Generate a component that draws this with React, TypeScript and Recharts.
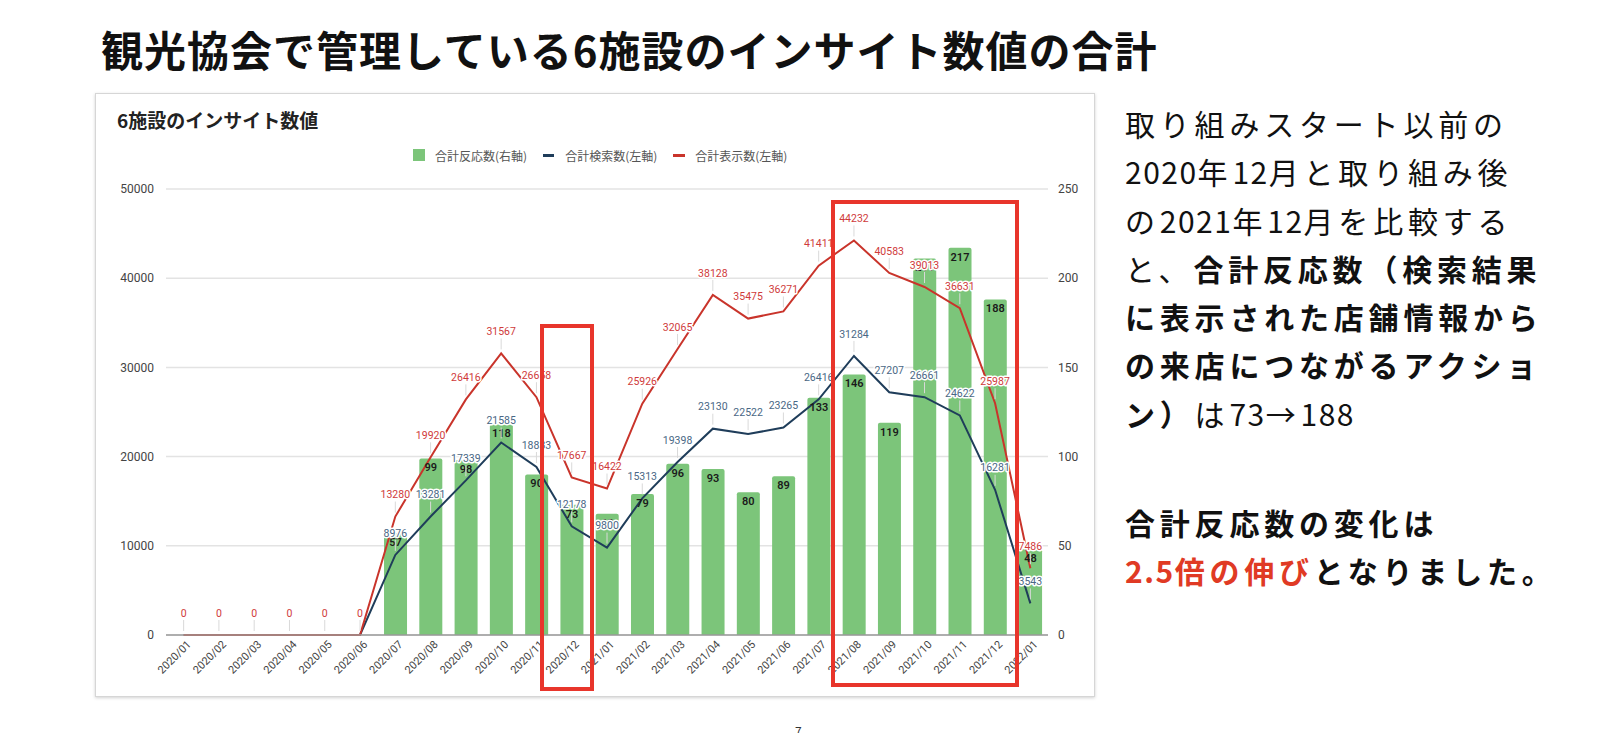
import React from 'react';
import { ComposedChart, Bar, Line, XAxis, YAxis, CartesianGrid, LabelList } from 'recharts';

const months = [
  '2020/01', '2020/02', '2020/03', '2020/04', '2020/05', '2020/06', '2020/07', '2020/08', '2020/09',
  '2020/10', '2020/11', '2020/12', '2021/01', '2021/02', '2021/03', '2021/04', '2021/05', '2021/06',
  '2021/07', '2021/08', '2021/09', '2021/10', '2021/11', '2021/12', '2022/01',
];
const reactions = [0, 0, 0, 0, 0, 0, 57, 99, 98, 118, 90, 73, 68, 79, 96, 93, 80, 89, 133, 146, 119, 211, 217, 188, 48];
const searches = [0, 0, 0, 0, 0, 0, 8976, 13281, 17339, 21585, 18833, 12178, 9800, 15313, 19398, 23130, 22522, 23265, 26416, 31284, 27207, 26661, 24622, 16281, 3543];
const impressions = [0, 0, 0, 0, 0, 0, 13280, 19920, 26416, 31567, 26658, 17667, 16422, 25926, 32065, 38128, 35475, 36271, 41411, 44232, 40583, 39013, 36631, 25987, 7486];
const leftTicks = [0, 10000, 20000, 30000, 40000, 50000];
const rightTicks = [0, 50, 100, 150, 200, 250];

const seriesNames = ['合計反応数(右軸)', '合計検索数(左軸)', '合計表示数(左軸)'];
const chartTitle = '6施設のインサイト数値';
const pageTitle = '観光協会で管理している6施設のインサイト数値の合計';

const data = months.map((m, i) => ({
  month: m,
  reactions: reactions[i],
  searches: searches[i],
  impressions: impressions[i],
}));

const GREEN = '#7cc57a';
const BLUE = '#1f3d5a';
const RED = '#c9342b';
const BLUE_LABEL = '#4a6785';
const RED_LABEL = '#cf3b3b';
const CHART_FONT = "Roboto, 'Noto Sans CJK JP', sans-serif";
const JP_FONT = "'Noto Sans CJK JP', 'Noto Sans', sans-serif";

const makeLineLabel = (color: string, skipZero: boolean) => (props: any) => {
  const { x, y, value } = props;
  if (x == null || y == null) return null;
  if (skipZero && value === 0) return null;
  return (
    <g>
      <line x1={x} x2={x} y1={y - 4} y2={y - 15} stroke="#d9d9d9" strokeWidth={1} />
      <text
        x={x}
        y={y - 22}
        dy="0.35em"
        textAnchor="middle"
        fontSize={10.5}
        fontFamily={CHART_FONT}
        fill={color}
        stroke="#ffffff"
        strokeWidth={3}
        strokeLinejoin="round"
        paintOrder="stroke"
      >
        {value}
      </text>
    </g>
  );
};

const barLabel = (props: any) => {
  const { x, y, width, value } = props;
  if (x == null || y == null) return null;
  const cx = x + width / 2;
  if (value === 0) {
    return (
      <text x={cx} y={y - 14} dy="0.35em" textAnchor="middle" fontSize={10} fontFamily={CHART_FONT} fill="#9fd89c">
        {value}
      </text>
    );
  }
  return (
    <text x={cx} y={y + 9} dy="0.35em" textAnchor="middle" fontSize={11} fontWeight={600} fontFamily={CHART_FONT} fill="#1a1a1a">
      {value}
    </text>
  );
};

const XTick = (props: any) => {
  const { x, y, payload } = props;
  const ax = x + 8;
  const ay = y + 2;
  return (
    <text
      x={ax}
      y={ay}
      textAnchor="end"
      fontSize={11}
      fontFamily={CHART_FONT}
      fill="#444"
      transform={`rotate(-45, ${ax}, ${ay})`}
    >
      {payload.value}
    </text>
  );
};

type Seg = { t: string; b?: boolean; red?: boolean };

const textLines1: Seg[][] = [
  [{ t: '取り組みスタート以前の' }],
  [{ t: '2020年12月と取り組み後' }],
  [{ t: 'の2021年12月を比較する' }],
  [{ t: 'と、' }, { t: '合計反応数（検索結果', b: true }],
  [{ t: 'に表示された店舗情報から', b: true }],
  [{ t: 'の来店につながるアクショ', b: true }],
  [{ t: 'ン）', b: true }, { t: 'は73→188' }],
];
const textLines2: Seg[][] = [
  [{ t: '合計反応数の変化は', b: true }],
  [{ t: '2.5倍の伸び', b: true, red: true }, { t: 'となりました。', b: true }],
];

// split a string into runs of half-width (digits, dot) and other characters
const splitRuns = (s: string) => {
  const out: Array<{ t: string; half: boolean }> = [];
  for (const ch of s) {
    const half = /[0-9.]/.test(ch);
    const last = out[out.length - 1];
    if (last && last.half === half) last.t += ch;
    else out.push({ t: ch, half });
  }
  return out;
};

const renderLines = (lines: Seg[][]) =>
  lines.map((ln, i) => (
    <div key={i} style={{ whiteSpace: 'nowrap' }}>
      {ln.map((s, j) => (
        <span key={j} style={{ fontWeight: s.b ? 700 : 400, color: s.red ? '#e03a24' : '#111' }}>
          {splitRuns(s.t).map((r, k) => (
            <span key={k} style={{ letterSpacing: r.half ? 1.5 : 4.8 }}>
              {r.t}
            </span>
          ))}
        </span>
      ))}
    </div>
  ));

export default function App() {
  return (
    <div style={{ position: 'absolute', left: 0, top: 0, width: 1600, height: 733, background: '#fff', overflow: 'hidden' }}>
      <div
        style={{
          position: 'absolute',
          left: 101,
          top: 22,
          fontFamily: JP_FONT,
          fontWeight: 700,
          fontSize: 42,
          letterSpacing: 1,
          lineHeight: '54px',
          color: '#111',
          whiteSpace: 'nowrap',
        }}
      >
        {pageTitle}
      </div>

      {/* chart card */}
      <div
        style={{
          position: 'absolute',
          left: 95,
          top: 93,
          width: 1000,
          height: 604,
          boxSizing: 'border-box',
          border: '1px solid #d6d6d6',
          boxShadow: '0 1px 3px rgba(0,0,0,0.18)',
          background: '#fff',
        }}
      />
      <div
        style={{
          position: 'absolute',
          left: 117,
          top: 107,
          fontFamily: JP_FONT,
          fontWeight: 700,
          fontSize: 19,
          lineHeight: '26px',
          color: '#222',
          whiteSpace: 'nowrap',
        }}
      >
        {chartTitle}
      </div>
      {/* legend */}
      <div
        style={{
          position: 'absolute',
          left: 413,
          top: 146,
          height: 18,
          display: 'flex',
          alignItems: 'center',
          fontFamily: JP_FONT,
          fontSize: 12,
          color: '#555',
          whiteSpace: 'nowrap',
        }}
      >
        <span style={{ display: 'inline-block', width: 12, height: 12, background: GREEN, marginRight: 10 }} />
        <span style={{ marginRight: 16 }}>{seriesNames[0]}</span>
        <span style={{ display: 'inline-block', width: 11, height: 3, background: BLUE, marginRight: 11 }} />
        <span style={{ marginRight: 16 }}>{seriesNames[1]}</span>
        <span style={{ display: 'inline-block', width: 12, height: 3, background: RED, marginRight: 10 }} />
        <span>{seriesNames[2]}</span>
      </div>

      <div style={{ position: 'absolute', left: 95, top: 93, width: 1000, height: 604, fontFamily: CHART_FONT }}>
        <ComposedChart
          width={1000}
          height={604}
          data={data}
          margin={{ top: 96, right: 0, left: 0, bottom: 0 }}
          barCategoryGap="18%"
        >
          <CartesianGrid yAxisId="left" vertical={false} stroke="#e3e3e3" strokeWidth={1.5} />
          <XAxis
            dataKey="month"
            interval={0}
            tick={<XTick />}
            tickLine={false}
            axisLine={{ stroke: '#9a9a9a', strokeWidth: 1.5 }}
            height={62}
          />
          <YAxis
            yAxisId="left"
            orientation="left"
            domain={[0, 50000]}
            ticks={leftTicks}
            width={71}
            tickLine={false}
            axisLine={false}
            tickMargin={6}
            tick={{ fontSize: 12, fill: '#444', fontFamily: CHART_FONT }}
          />
          <YAxis
            yAxisId="right"
            orientation="right"
            domain={[0, 250]}
            ticks={rightTicks}
            width={47}
            tickLine={false}
            axisLine={false}
            tickMargin={4}
            tick={{ fontSize: 12, fill: '#444', fontFamily: CHART_FONT }}
          />
          <Bar yAxisId="right" dataKey="reactions" fill={GREEN} radius={[2, 2, 0, 0]} isAnimationActive={false}>
            <LabelList dataKey="reactions" content={barLabel} />
          </Bar>
          <Line
            yAxisId="left"
            type="linear"
            dataKey="searches"
            stroke={BLUE}
            strokeWidth={2}
            dot={false}
            activeDot={false}
            isAnimationActive={false}
          >
            <LabelList dataKey="searches" content={makeLineLabel(BLUE_LABEL, true)} />
          </Line>
          <Line
            yAxisId="left"
            type="linear"
            dataKey="impressions"
            stroke={RED}
            strokeWidth={2}
            dot={false}
            activeDot={false}
            isAnimationActive={false}
          >
            <LabelList dataKey="impressions" content={makeLineLabel(RED_LABEL, false)} />
          </Line>
        </ComposedChart>
      </div>

      {/* highlight boxes */}
      <div
        style={{
          position: 'absolute',
          left: 540,
          top: 324,
          width: 54,
          height: 367,
          boxSizing: 'border-box',
          border: '4px solid #e8352b',
        }}
      />
      <div
        style={{
          position: 'absolute',
          left: 831,
          top: 200,
          width: 188,
          height: 487,
          boxSizing: 'border-box',
          border: '4px solid #e8352b',
        }}
      />

      {/* right text */}
      <div
        style={{
          position: 'absolute',
          left: 1125,
          top: 99,
          fontFamily: JP_FONT,
          fontSize: 30,
          lineHeight: '48.3px',
        }}
      >
        {renderLines(textLines1)}
      </div>
      <div
        style={{
          position: 'absolute',
          left: 1125,
          top: 498,
          fontFamily: JP_FONT,
          fontSize: 30,
          lineHeight: '48px',
        }}
      >
        {renderLines(textLines2)}
      </div>

      <div style={{ position: 'absolute', left: 795, top: 722, fontFamily: JP_FONT, fontSize: 12, color: '#333' }}>7</div>
    </div>
  );
}
